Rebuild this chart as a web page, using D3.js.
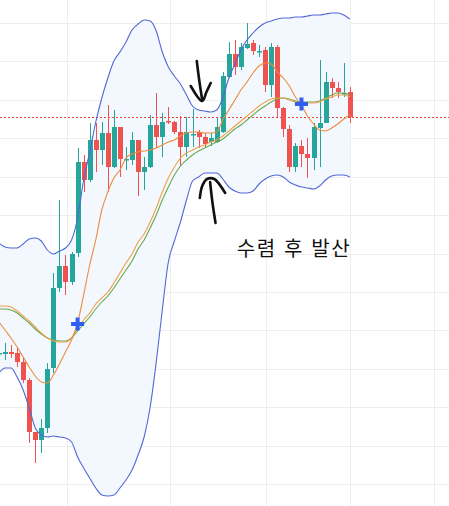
<!DOCTYPE html>
<html lang="ko">
    <head>
        <meta charset="utf-8">
        <title>수렴 후 발산</title>
        <script src="https://cdn.jsdelivr.net/npm/d3@7"></script>
        <style type="text/css">
            body { margin: 0; background: #fff; }
            svg { display: block; }
        </style>
    </head>
    <body>
        <script type="text/javascript">

            //Width and height
            var w = 449;
            var h = 506;

            //Candles, one per day (the first one is cut off by the left edge)
            var openVals  = [146,146,148,147,138,120,68,60,72,132,212,234,218,247,338,320,360,350,367,333,373,340,340,360,328,333,375,363,379,378,368,353,365,368,363,358,358,368,423,446,433,452,457,448,450,415,453,392,371,333,354,346,342,372,377,418,412,406,408];
            var highVals  = [150,157,155,152,142,122,68,81,137,227,300,245,248,352,345,377,377,378,395,390,373,353,368,360,343,385,407,387,393,379,384,383,391,370,367,367,382,428,458,460,457,477,460,455,453,457,455,393,375,357,360,362,377,440,428,422,418,437,413];
            var lowVals   = [143,140,142,133,117,57,37,47,67,127,208,205,215,243,308,318,328,335,308,332,323,330,335,304,310,332,352,343,376,366,334,343,353,352,352,354,357,367,422,425,430,451,445,443,408,403,383,363,328,328,333,322,330,333,377,402,402,403,377];
            var closeVals = [147,148,146,138,120,68,60,72,131,212,234,218,246,338,320,360,350,367,333,373,341,341,360,328,333,375,363,378,378,368,353,368,366,363,356,362,373,424,446,433,453,456,449,449,415,453,392,371,333,354,346,342,373,377,418,412,408,407,383];

            //Bollinger band
            var upperVals = [257,253,252,252,256,261,262,259,250,246,249,252,260,282,320,348,378,402,422,439,448,458,470,476,480,479,469,448,433,424,416,405,394,390,389,388,390,402,422,436,450,460,467,473,477,479,481,482,482,483,483,484,485,485,486,487,487,485,481];
            var lowerVals = [127,132,132,123,110,92,72,65,63,64,63,62,58,43,32,22,12,5,4,5,12,20,30,45,63,93,138,190,238,259,278,300,319,323,327,327,327,321,313,309,307,307,309,316,321,324,325,323,318,315,313,312,311,314,320,324,325,325,323];

            //Moving averages
            var ma5Vals  = [178,170,162,153,143,133,124,118,117,125,136,148,160,177,205,235,260,290,308,322,330,342,346,348,349,350,352,355,358,360,364,367,368,368,367,367,368,380,390,400,410,418,427,434,437,436,428,422,414,403,395,384,376,370,369,372,376,381,385];
            var ma20Vals = [194,194,193,189,184,179,173,167,162,159,158,158,162,172,180,187,196,202,208,217,227,237,246,258,266,278,292,308,322,333,342,347,350,353,355,358,360,364,369,374,379,384,389,394,398,401,402,402,400,398,397,397,397,398,401,403,405,405,403];
            var ma60Vals = [191,191,190,187,182,177,171,166,162,160,159,159,162,169,176,183,191,198,204,212,221,230,239,251,260,272,285,300,313,325,334,340,345,349,352,355,358,361,366,371,375,380,385,390,394,398,401,402,401,399,398,398,398,399,402,405,407,407,405];

            //Cross signals (day, price)
            var crossDays = [12, 49];
            var crossVals = [176, 396];

            //Grid lines (month starts and price levels)
            var gridDays = [10.25, 27.3, 43.1, 57.0, 70.9];
            var gridVals = [477, 438.6, 400.2, 361.7, 323.3, 284.9, 246.5, 208.1, 169.7, 131.2, 92.8, 54.4, 16];

            //Hand drawn notes (day, price)
            var downShaft = [[31.7,439],[32.1,420],[32.6,400]];
            var downHead  = [[30.7,414],[32.6,399],[33.3,408],[34.0,417]];
            var upShaft   = [[34.8,277],[34.3,297],[33.9,318]];
            var upHead    = [[32.2,302],[32.6,314],[33.4,321],[34.6,321],[36.4,307]];
            var noteText  = "수렴 후 발산";
            var notePos   = [38.3, 244];

            var days = d3.range(-1, openVals.length - 1);

            var x = d3.scaleLinear().domain([-0.826, 73.39]).range([0, w]);
            var y = d3.scaleLinear().domain([-6, 500]).range([h, 0]);

            var svg = d3.select("body")
                        .append("svg")
                        .attr("width", w)
                        .attr("height", h);

            //grid
            svg.selectAll(".hgrid")
                .data(gridVals)
                .enter()
                .append("line")
                .attr("x1", 0).attr("x2", w)
                .attr("y1", function(d) { return Math.round(y(d)) + 0.5; })
                .attr("y2", function(d) { return Math.round(y(d)) + 0.5; })
                .attr("stroke", "#eeeeee");

            svg.selectAll(".vgrid")
                .data(gridDays)
                .enter()
                .append("line")
                .attr("y1", 0).attr("y2", h)
                .attr("x1", function(d) { return Math.round(x(d)) + 0.5; })
                .attr("x2", function(d) { return Math.round(x(d)) + 0.5; })
                .attr("stroke", "#eeeeee");

            //band fill
            var area = d3.area()
                .x(function(d) { return x(d); })
                .y0(function(d, i) { return y(lowerVals[i]); })
                .y1(function(d, i) { return y(upperVals[i]); })
                .curve(d3.curveMonotoneX);

            svg.append("path")
                .datum(days)
                .attr("d", area)
                .attr("fill", "#f2f8fd");

            //last price line
            var last = closeVals[closeVals.length - 1];
            svg.append("line")
                .attr("x1", 0).attr("x2", w)
                .attr("y1", Math.round(y(last)) + 0.5)
                .attr("y2", Math.round(y(last)) + 0.5)
                .attr("stroke", "#e0443c")
                .attr("stroke-width", 1)
                .attr("stroke-dasharray", "2,2")
                .attr("shape-rendering", "crispEdges");

            //candles
            var bw = 5;
            var candle = svg.selectAll(".candle")
                .data(days)
                .enter()
                .append("g")
                .attr("class", "candle");

            function col(i) {
                return closeVals[i] >= openVals[i] ? "#26a69a" : "#ef5350";
            }

            candle.append("line")
                .attr("x1", function(d) { return Math.round(x(d)) + 0.5; })
                .attr("x2", function(d) { return Math.round(x(d)) + 0.5; })
                .attr("y1", function(d, i) { return y(highVals[i]); })
                .attr("y2", function(d, i) { return y(lowVals[i]); })
                .attr("stroke", function(d, i) { return col(i); });

            candle.append("rect")
                .attr("x", function(d) { return Math.round(x(d)) + 0.5 - bw / 2; })
                .attr("width", bw)
                .attr("y", function(d, i) { return y(Math.max(openVals[i], closeVals[i])); })
                .attr("height", function(d, i) {
                    return Math.max(1.5, Math.abs(y(openVals[i]) - y(closeVals[i])));
                })
                .attr("fill", function(d, i) { return col(i); });

            //lines
            function lineOf(vals) {
                return d3.line()
                    .x(function(d) { return x(d); })
                    .y(function(d, i) { return y(vals[i]); })
                    .curve(d3.curveMonotoneX);
            }

            var series = [
                {vals: upperVals, color: "#5068d6"},
                {vals: lowerVals, color: "#5068d6"},
                {vals: ma60Vals,  color: "#6aa84f"},
                {vals: ma20Vals,  color: "#f0a04a"},
                {vals: ma5Vals,   color: "#f08a3c"}
            ];

            series.forEach(function(s) {
                svg.append("path")
                    .datum(days)
                    .attr("d", lineOf(s.vals))
                    .attr("fill", "none")
                    .attr("stroke", s.color)
                    .attr("stroke-width", 1.1);
            });

            //cross markers
            svg.selectAll(".cross")
                .data(crossDays)
                .enter()
                .append("path")
                .attr("d", function(d, i) {
                    var cx = x(d), cy = y(crossVals[i]);
                    return "M" + (cx - 6.5) + "," + cy + "H" + (cx + 6.5) +
                           "M" + cx + "," + (cy - 6.5) + "V" + (cy + 6.5);
                })
                .attr("stroke", "#2f5ef2")
                .attr("stroke-width", 4)
                .attr("fill", "none");

            //hand drawn arrows
            var pen = d3.line()
                .x(function(d) { return x(d[0]); })
                .y(function(d) { return y(d[1]); })
                .curve(d3.curveCatmullRom);

            [downShaft, downHead, upShaft, upHead].forEach(function(p) {
                svg.append("path")
                    .attr("d", pen(p))
                    .attr("fill", "none")
                    .attr("stroke", "#111")
                    .attr("stroke-width", 2.6)
                    .attr("stroke-linecap", "round")
                    .attr("stroke-linejoin", "round");
            });

            svg.append("text")
                .attr("x", x(notePos[0]))
                .attr("y", y(notePos[1]))
                .attr("font-family", "'Noto Sans CJK KR', sans-serif")
                .attr("font-size", 20)
                .attr("fill", "#111")
                .attr("textLength", 113)
                .attr("lengthAdjust", "spacing")
                .text(noteText);
        </script>
    </body>
</html>
